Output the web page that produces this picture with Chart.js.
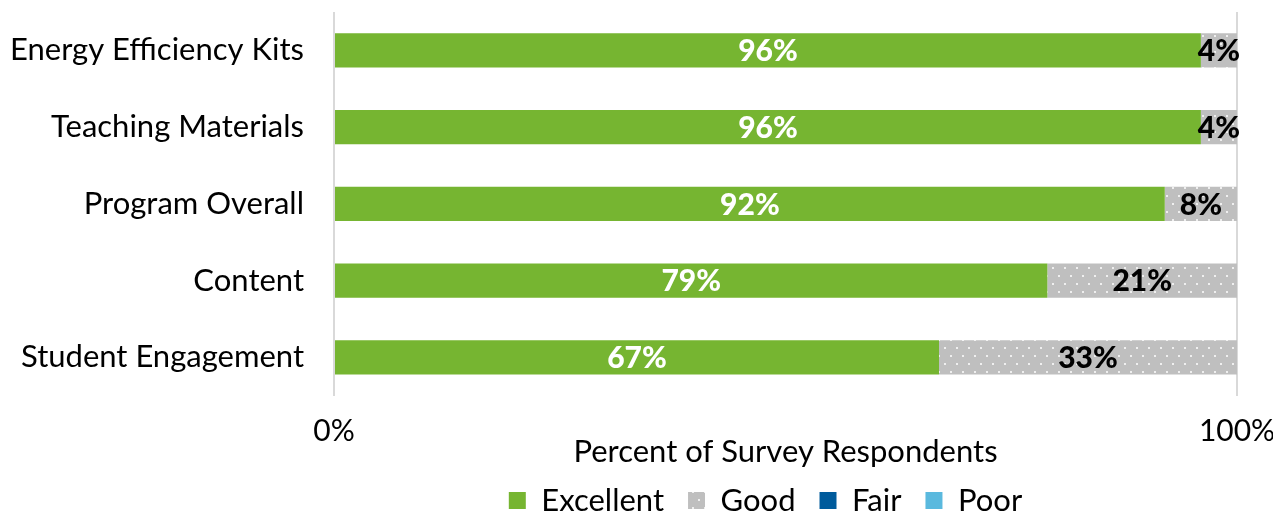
<!DOCTYPE html>
<html>
<head>
<meta charset="utf-8">
<script src="https://cdn.jsdelivr.net/npm/chart.js@4"></script>
<style>
  html, body { margin: 0; padding: 0; background: #fff; }
  #wrap { width: 1273px; height: 516px; }
</style>
</head>
<body>
<div id="wrap"><canvas id="survey-chart"></canvas></div>
<script>
const categories = ['Energy Efficiency Kits', 'Teaching Materials', 'Program Overall', 'Content', 'Student Engagement'];
const excellent = [96, 96, 92, 79, 67];
const good = [4, 4, 8, 21, 33];
const fair = [0, 0, 0, 0, 0];
const poor = [0, 0, 0, 0, 0];
const xTicks = [0, 100];

const FONT = "'Lato', 'Open Sans', sans-serif";

// gray fill with a sparse white dot grid for the "Good" segment
function dotPattern() {
  const c = document.createElement('canvas');
  c.width = 12; c.height = 16;
  const g = c.getContext('2d');
  g.fillStyle = '#bfbfbf';
  g.fillRect(0, 0, 12, 16);
  g.fillStyle = 'rgba(255,255,255,0.75)';
  g.fillRect(2, 3, 2, 2);
  g.fillRect(8, 11, 2, 2);
  return g.createPattern(c, 'repeat');
}

// value labels centred on each visible segment
const segmentLabels = {
  id: 'segmentLabels',
  afterDatasetsDraw(chart) {
    const ctx = chart.ctx;
    ctx.save();
    ctx.font = `900 30px ${FONT}`;
    ctx.textAlign = 'center';
    ctx.textBaseline = 'middle';
    chart.data.datasets.forEach((ds, i) => {
      if (!ds.labelColor) return;
      chart.getDatasetMeta(i).data.forEach((bar, j) => {
        const v = ds.data[j];
        if (!v) return;
        const x = (bar.x + bar.base) / 2;
        ctx.fillStyle = ds.labelColor;
        ctx.fillText(v + '%', x, bar.y + 1);
      });
    });
    ctx.restore();
  }
};

// legend sits a bit left of the plot centre and tucked up under the axis title
const legendShift = {
  id: 'legendShift',
  afterLayout(chart) {
    const lg = chart.legend;
    lg.left -= 20; lg.right -= 20;
    lg.top -= 10; lg.bottom -= 10;
  }
};

new Chart(document.getElementById('survey-chart').getContext('2d'), {
  type: 'bar',
  data: {
    labels: categories,
    datasets: [
      { label: 'Excellent', data: excellent, backgroundColor: '#76b531', labelColor: '#ffffff' },
      { label: 'Good', data: good, backgroundColor: dotPattern(), labelColor: '#000000' },
      { label: 'Fair', data: fair, backgroundColor: '#005b9c' },
      { label: 'Poor', data: poor, backgroundColor: '#5ab9de' }
    ]
  },
  options: {
    indexAxis: 'y',
    responsive: true, maintainAspectRatio: false,
    animation: false,
    categoryPercentage: 1,
    barPercentage: 0.445,
    layout: { padding: { top: 12, right: 0, left: 10, bottom: -20 } },
    plugins: {
      legend: {
        position: 'bottom',
        fullSize: false,
        labels: { boxWidth: 17, boxHeight: 17, padding: 24, font: { size: 31, family: FONT }, color: '#000' }
      },
      tooltip: { enabled: false }
    },
    scales: {
      x: {
        stacked: true,
        min: 0, max: 100,
        afterBuildTicks: axis => { axis.ticks = xTicks.map(v => ({ value: v })); },
        afterFit: axis => { axis.paddingRight = 36; },
        grid: { color: '#d9d9d9', lineWidth: 2, drawTicks: false },
        border: { display: false },
        ticks: { callback: v => v + '%', font: { size: 30, family: FONT }, color: '#000', padding: 18, maxRotation: 0 },
        title: { display: true, text: 'Percent of Survey Respondents', font: { size: 31, family: FONT }, color: '#000', padding: { top: -34, bottom: 0 } }
      },
      y: {
        stacked: true,
        afterFit: axis => { axis.width = 324; axis.paddingTop = 0; axis.paddingBottom = 0; },
        grid: { display: false, drawTicks: false },
        border: { display: false },
        ticks: { font: { size: 31, family: FONT }, color: '#000', padding: 30 }
      }
    }
  },
  plugins: [segmentLabels, legendShift]
});
</script>
</body>
</html>
